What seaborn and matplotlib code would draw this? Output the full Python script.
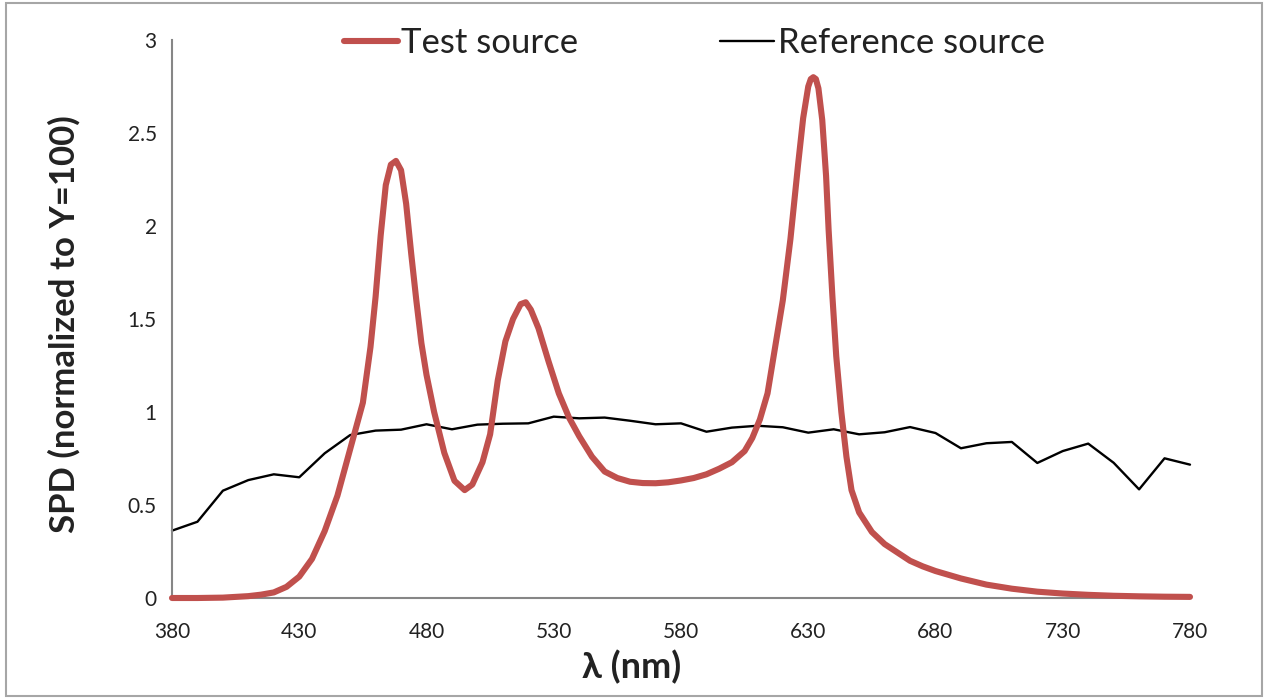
import matplotlib
matplotlib.use("Agg")
import matplotlib.pyplot as plt
from matplotlib.patches import Rectangle
from matplotlib.ticker import FuncFormatter
import seaborn as sns
import pandas as pd

# Reference source, 10 nm steps
ref_wl = list(range(380, 781, 10))
ref_spd = [0.362, 0.41, 0.577, 0.634, 0.665, 0.649, 0.778, 0.876, 0.90, 0.905,
           0.934, 0.907, 0.932, 0.937, 0.939, 0.975, 0.966, 0.97, 0.953, 0.934,
           0.939, 0.894, 0.916, 0.926, 0.918, 0.889, 0.907, 0.88, 0.891, 0.919,
           0.887, 0.805, 0.832, 0.839, 0.726, 0.79, 0.83, 0.727, 0.584, 0.751,
           0.717]

# Test source
test_wl = [380, 390, 400, 410, 415, 420, 425, 430, 435, 440, 445, 450, 455, 458,
           460, 462, 464, 466, 468, 470, 472, 474, 476, 478, 480, 483, 487, 491,
           495, 498, 502, 505, 508, 511, 514, 517, 519, 521, 524, 528, 532, 536,
           540, 545, 550, 555, 560, 565, 570, 575, 580, 585, 590, 595, 600, 605,
           608, 611, 614, 617, 620, 623, 626, 628, 630, 631, 632, 633, 634, 635.5,
           637, 638, 639.5, 641, 643, 645, 647, 650, 655, 660, 665, 670, 675, 680,
           690, 700, 710, 720, 730, 740, 750, 760, 770, 780]
test_spd = [0.0, 0.0, 0.002, 0.01, 0.018, 0.03, 0.06, 0.115, 0.21, 0.36, 0.55, 0.80,
            1.05, 1.35, 1.62, 1.95, 2.22, 2.33, 2.35, 2.30, 2.12, 1.85, 1.60, 1.37,
            1.20, 1.00, 0.78, 0.63, 0.58, 0.61, 0.73, 0.88, 1.17, 1.38, 1.50, 1.58,
            1.59, 1.55, 1.45, 1.27, 1.10, 0.97, 0.87, 0.76, 0.68, 0.645, 0.625,
            0.618, 0.617, 0.622, 0.632, 0.645, 0.665, 0.695, 0.73, 0.79, 0.86, 0.96,
            1.10, 1.35, 1.60, 1.93, 2.33, 2.58, 2.75, 2.79, 2.80, 2.79, 2.74, 2.57,
            2.27, 1.98, 1.62, 1.30, 1.00, 0.76, 0.58, 0.46, 0.355, 0.29, 0.245, 0.20,
            0.17, 0.145, 0.105, 0.072, 0.05, 0.034, 0.024, 0.017, 0.012, 0.009,
            0.007, 0.006]

x_ticks = [380, 430, 480, 530, 580, 630, 680, 730, 780]
y_ticks = [0, 0.5, 1, 1.5, 2, 2.5, 3]

sns.set_theme(style="white")
plt.rcParams["font.family"] = ["Lato", "DejaVu Sans"]

W, H = 1268, 698
fig = plt.figure(figsize=(W / 100, H / 100), dpi=100)
ax = fig.add_axes([172 / W, 100 / H, 1018 / W, 558 / H])

test_df = pd.DataFrame({"wl": test_wl, "spd": test_spd})
ref_df = pd.DataFrame({"wl": ref_wl, "spd": ref_spd})

sns.lineplot(data=test_df, x="wl", y="spd", ax=ax, color="#C0504D", lw=4.4,
             label="Test source", sort=False, clip_on=False, zorder=3,
             solid_joinstyle="round", solid_capstyle="round")
sns.lineplot(data=ref_df, x="wl", y="spd", ax=ax, color="black", lw=1.7,
             label="Reference source", sort=False, clip_on=False, zorder=2)

ax.set_xlim(380, 780)
ax.set_ylim(0, 3)
ax.set_xticks(x_ticks)
ax.set_yticks(y_ticks)
ax.yaxis.set_major_formatter(FuncFormatter(lambda v, p: f"{v:g}"))

for side in ["top", "right"]:
    ax.spines[side].set_visible(False)
for side in ["left", "bottom"]:
    ax.spines[side].set_color("#868686")
    ax.spines[side].set_linewidth(1.5)

ax.tick_params(axis="both", direction="out", length=5, width=1.2, color="#868686",
               labelsize=15, labelcolor="#222222")
ax.tick_params(axis="x", pad=12)
ax.tick_params(axis="y", pad=6)

ax.set_xlabel("λ (nm)", fontsize=26, fontweight="bold", color="#222222")
ax.set_ylabel("SPD (normalized to Y=100)", fontsize=25, fontweight="bold", color="#222222")
ax.xaxis.set_label_coords((632 - 172) / 1018, -0.092)
ax.yaxis.set_label_coords(-0.09, 0.49)

ax.legend(loc="center", bbox_to_anchor=(0.513, 0.994), ncol=2, frameon=False,
          fontsize=25, handlelength=1.55, handletextpad=0.1, columnspacing=4.1,
          labelcolor="#222222")

# chart area border
fig.patches.append(Rectangle((6 / W, 2 / H), 1256 / W, 693 / H, transform=fig.transFigure,
                             fill=False, edgecolor="#A6A6A6", lw=1.5))

fig.savefig("out.png", dpi=100)
plt.close(fig)
